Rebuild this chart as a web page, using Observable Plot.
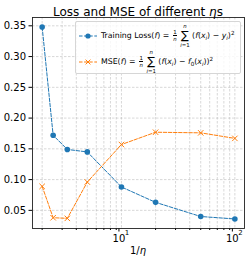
<!DOCTYPE html>
<html><head><meta charset="utf-8">
<script src="https://cdn.jsdelivr.net/npm/d3@7"></script>
<script src="https://cdn.jsdelivr.net/npm/@observablehq/plot@0.6"></script>
<style>
body{margin:0;background:#fff;}
#wrap{position:relative;width:249px;height:261px;font-family:"DejaVu Sans",sans-serif;color:#000;overflow:hidden;}
#wrap svg{display:block;}
.title{position:absolute;top:4.5px;left:32px;width:212px;text-align:center;font-size:12px;line-height:14px;white-space:nowrap;}
.xlab{position:absolute;top:244.8px;left:32px;width:212px;text-align:center;font-size:10px;line-height:12px;}
.leg{position:absolute;left:75px;top:21px;width:166px;height:53px;border:1px solid #d6d6d6;border-radius:2px;background:rgba(255,255,255,0.8);box-sizing:border-box;}
.handle{position:absolute;left:79px;width:20px;height:8px;}
.ent{position:absolute;left:101px;font-size:7.8px;white-space:nowrap;line-height:10px;}
.frac{display:inline-flex;flex-direction:column;align-items:center;font-size:5.4px;line-height:6.4px;margin:0 1.5px 0 1px;vertical-align:middle;}
.frac .num{border-bottom:0.6px solid #000;padding:0 0.5px;}
.sum{display:inline-flex;flex-direction:column;align-items:center;margin:0 2.5px 0 1.5px;vertical-align:middle;}
.sum .up,.sum .lo{font-size:5.4px;line-height:6.4px;}
.sum .sig{font-size:11.5px;line-height:13.4px;}
sub,sup{font-size:5.6px;line-height:0;}
sub{vertical-align:-1.8px;}
sup{vertical-align:3.5px;}
</style></head><body><div id="wrap"></div>
<script>
const invEta = [2, 2.5, 10/3, 5, 10, 20, 50, 100];
const trainingLoss = [0.348, 0.172, 0.149, 0.145, 0.088, 0.063, 0.040, 0.036];
const mse = [0.089, 0.038, 0.037, 0.096, 0.157, 0.177, 0.176, 0.167];
const yTicks = [0.05, 0.10, 0.15, 0.20, 0.25, 0.30, 0.35];
const xMajor = [10, 100];
const xMinor = [2, 3, 4, 5, 6, 7, 8, 9, 20, 30, 40, 50, 60, 70, 80, 90];

const blue = "#1f77b4", orange = "#ff7f0e";
const lossData = invEta.map((x, i) => ({x, y: trainingLoss[i]}));
const mseData = invEta.map((x, i) => ({x, y: mse[i]}));
const gridStyle = {stroke: "#b0b0b0", strokeOpacity: 0.7, strokeWidth: 0.7, strokeDasharray: "2.5,1.5"};

const chart = Plot.plot({
  width: 249, height: 261,
  marginLeft: 32, marginRight: 5, marginTop: 17, marginBottom: 33,
  style: {fontFamily: "DejaVu Sans", fontSize: "10px", background: "#fff", color: "#000", overflow: "visible"},
  x: {type: "log", domain: [1.644, 121.6]},
  y: {domain: [0.0205, 0.3635]},
  marks: [
    Plot.gridX([...xMinor, ...xMajor], gridStyle),
    Plot.gridY(yTicks, gridStyle),
    Plot.axisX(xMajor, {tickSize: 3.5, tickPadding: 3, tickFormat: () => "10", dx: -2.5, label: null, fontSize: 10}),
    Plot.text(xMajor, {x: d => d, frameAnchor: "bottom", text: d => String(Math.round(Math.log10(d))), fontSize: 7, dx: 5.5, dy: 6.5}),
    Plot.axisX(xMinor, {tickSize: 2, tickFormat: () => "", label: null}),
    Plot.axisY(yTicks, {tickSize: 3.5, tickPadding: 3, tickFormat: d3.format(".2f"), label: null, fontSize: 10}),
    Plot.line(lossData, {x: "x", y: "y", stroke: blue, strokeWidth: 1, strokeDasharray: "3.5,1.6"}),
    Plot.dot(lossData, {x: "x", y: "y", fill: blue, r: 2.8}),
    Plot.line(mseData, {x: "x", y: "y", stroke: orange, strokeWidth: 1, strokeDasharray: "3.5,1.6"}),
    Plot.dot(mseData, {x: "x", y: "y", stroke: orange, symbol: "times", r: 2.6, strokeWidth: 1}),
    Plot.frame({stroke: "#222", strokeWidth: 0.9})
  ]
});

const wrap = document.getElementById("wrap");
wrap.appendChild(chart);

const handle = (color, marker, top) => {
  const m = marker === "o"
    ? `<circle cx="9" cy="4" r="2.6" fill="${color}"/>`
    : `<path d="M6.6,1.6L11.4,6.4M6.6,6.4L11.4,1.6" stroke="${color}" stroke-width="1"/>`;
  return `<svg class="handle" style="top:${top}px" viewBox="0 0 20 8"><line x1="0" y1="4" x2="18" y2="4" stroke="${color}" stroke-width="1" stroke-dasharray="3.5,1.6"/>${m}</svg>`;
};
const frac = `<span class="frac"><span class="num">1</span><span><i>n</i></span></span>`;
const sum = `<span class="sum"><span class="up"><i>n</i></span><span class="sig">∑</span><span class="lo"><i>i</i>=1</span></span>`;

const html = `
<div class="title">Loss and MSE of different <i>η</i>s</div>
<div class="xlab">1/<i>η</i></div>
<div class="leg"></div>
${handle(blue, "o", 31.7)}
${handle(orange, "x", 57.7)}
<div class="ent" style="top:22.5px">Training Loss(<i>f</i>) = ${frac}${sum}(<i>f</i>(<i>x</i><sub><i>i</i></sub>) − <i>y</i><sub><i>i</i></sub>)<sup>2</sup></div>
<div class="ent" style="top:48.5px">MSE(<i>f</i>) = ${frac}${sum}(<i>f</i>(<i>x</i><sub><i>i</i></sub>) − <i>f</i><sub>0</sub>(<i>x</i><sub><i>i</i></sub>))<sup>2</sup></div>
`;
wrap.insertAdjacentHTML("beforeend", html);
</script>
</body></html>
